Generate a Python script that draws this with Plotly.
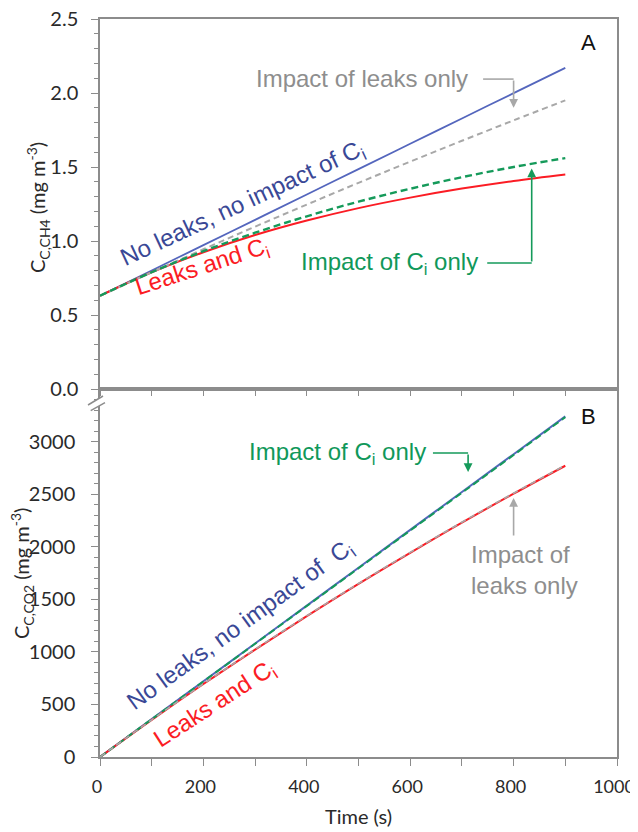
import plotly.graph_objects as go

# ---------------- data ----------------
time_s = [0, 100, 200, 300, 400, 500, 600, 700, 800, 900]

# Panel A: C_C,CH4 (mg m-3)
ch4_no_leaks_no_ci = [0.63, 0.801, 0.972, 1.143, 1.314, 1.486, 1.657, 1.828, 1.999, 2.17]
ch4_leaks_only = [0.63, 0.789, 0.944, 1.097, 1.246, 1.393, 1.536, 1.677, 1.815, 1.95]
ch4_ci_only = [0.63, 0.789, 0.931, 1.056, 1.167, 1.266, 1.353, 1.431, 1.500, 1.560]
ch4_leaks_and_ci = [0.63, 0.789, 0.924, 1.040, 1.138, 1.222, 1.293, 1.354, 1.406, 1.450]

# Panel B: C_C,CO2 (mg m-3)
co2_no_leaks_no_ci = [0, 360, 720, 1080, 1440, 1800, 2160, 2520, 2880, 3240]
co2_ci_only = [0, 359, 718, 1077, 1436, 1795, 2154, 2513, 2872, 3232]
co2_leaks_only = [0, 354, 695, 1024, 1343, 1650, 1946, 2233, 2509, 2775]
co2_leaks_and_ci = [0, 353, 694, 1022, 1340, 1647, 1942, 2229, 2504, 2770]

x_ticks = [0, 200, 400, 600, 800, 1000]
ch4_ticks = [0.0, 0.5, 1.0, 1.5, 2.0, 2.5]
co2_ticks = [0, 500, 1000, 1500, 2000, 2500, 3000]

# ---------------- styles ----------------
BLUE = "#5466bd"
BLUE_TXT = "#3a4896"
RED = "#fb1c24"
GREEN = "#159a5a"
GREEN_TXT = "#10985a"
GREY = "#a8a8a8"
GREY_TXT = "#8e8e8e"
AX = "#8c8c8c"
LFONT = "Lato, Open Sans, sans-serif"
YTICKFONT = dict(family=LFONT, size=20, color="#2a2a2a")
XTICKFONT = dict(family=LFONT, size=18, color="#2a2a2a")
ANNFONT = "Liberation Sans, Arial, sans-serif"

fig = go.Figure()

def line(x, y, xa, ya, color, width, dash="solid"):
    fig.add_trace(go.Scatter(x=x, y=y, xaxis=xa, yaxis=ya, mode="lines",
                             line=dict(color=color, width=width, dash=dash, shape="spline"),
                             hoverinfo="skip"))

# Panel A (top)
line(time_s, ch4_no_leaks_no_ci, "x2", "y2", BLUE, 1.8)
line(time_s, ch4_leaks_and_ci, "x2", "y2", RED, 2.0)
line(time_s, ch4_leaks_only, "x2", "y2", GREY, 2.0, "6px,4px")
line(time_s, ch4_ci_only, "x2", "y2", GREEN, 2.4, "7px,4px")

# Panel B (bottom)
line(time_s, co2_no_leaks_no_ci, "x", "y", BLUE, 2.0)
line(time_s, co2_leaks_and_ci, "x", "y", RED, 2.0)
line(time_s, co2_ci_only, "x", "y", GREEN, 2.0, "7px,4px")
line(time_s, co2_leaks_only, "x", "y", GREY, 1.6, "6px,4px")

split = (757 - 389) / 738.0

common_axis = dict(showline=True, linecolor=AX, linewidth=1.5, mirror=True,
                   showgrid=False, zeroline=False, tickcolor=AX, tickwidth=1.2,
                   automargin=False, ticklabeloverflow="allow")

# page body has an 8px margin: figure is sized so it fits the 638x832 window
fig.update_layout(
    width=630, height=824,
    margin=dict(l=92, r=21, t=11, b=75, autoexpand=False),
    paper_bgcolor="white", plot_bgcolor="white",
    showlegend=False,
    xaxis=dict(common_axis, domain=[0, 1], range=[0, 1000], anchor="y",
               tickfont=XTICKFONT,
               tickmode="array", tickvals=x_ticks, ticks="outside", ticklen=7,
               ticklabelstandoff=6, ticklabelshift=-3,
               minor=dict(tickmode="linear", tick0=0, dtick=100, ticks="outside",
                          ticklen=7, tickcolor=AX, tickwidth=1.2),
               title=dict(text="Time (s)", font=dict(family=LFONT, size=20, color="#2a2a2a"),
                          standoff=14)),
    yaxis=dict(common_axis, domain=[0, split], range=[0, 3500], anchor="x",
               tickfont=YTICKFONT,
               tickmode="array", tickvals=co2_ticks, ticks="outside", ticklen=7,
               ticklabelstandoff=12,
               minor=dict(tickmode="linear", tick0=0, dtick=100, ticks="outside",
                          ticklen=4, tickcolor=AX, tickwidth=1)),
    xaxis2=dict(common_axis, domain=[0, 1], range=[0, 1000], anchor="y2",
                showticklabels=False, tickmode="linear", tick0=0, dtick=100,
                ticks="outside", ticklen=5),
    yaxis2=dict(common_axis, domain=[split, 1], range=[0, 2.5], anchor="x2",
                tickfont=YTICKFONT,
                tickmode="array", tickvals=ch4_ticks, tickformat=".1f",
                ticks="outside", ticklen=7, ticklabelstandoff=9,
                minor=dict(tickmode="linear", tick0=0, dtick=0.1, ticks="outside",
                           ticklen=4, tickcolor=AX, tickwidth=1)),
)

anns = []
shapes = []

def px(xp):
    return (xp - 100) / 517.0

def py(yp):
    return (757 - yp) / 738.0

def text(x, y, xr, yr, s, color, size=24, angle=0, xanchor="center", align="center", family=ANNFONT):
    anns.append(dict(x=x, y=y, xref=xr, yref=yr, text=s, showarrow=False,
                     font=dict(family=family, size=size, color=color),
                     textangle=angle, xanchor=xanchor, yanchor="middle", align=align))

def arrow(x, y, ax, ay, xr, yr, color):
    anns.append(dict(x=x, y=y, ax=ax, ay=ay, xref=xr, yref=yr, axref=xr, ayref=yr,
                     text="", showarrow=True, arrowhead=2, arrowsize=1.1,
                     arrowwidth=1.6, arrowcolor=color))

def seg(x0, y0, x1, y1, xr, yr, color):
    shapes.append(dict(type="line", x0=x0, y0=y0, x1=x1, y1=y1, xref=xr, yref=yr,
                       line=dict(color=color, width=1.6)))

# ---- y-axis titles ----
text(px(38), py(208), "paper", "paper", "C<sub>C,CH4</sub> (mg m<sup>-3</sup>)", "#2a2a2a",
     size=20, angle=-90, family=LFONT)
text(px(22), py(574), "paper", "paper", "C<sub>C,CO2</sub> (mg m<sup>-3</sup>)", "#2a2a2a",
     size=20, angle=-90, family=LFONT)

# ---- Panel A annotations ----
text(944, 2.34, "x2", "y2", "A", "#111111", size=22)
text(716, 2.10, "x2", "y2", "Impact of leaks only", GREY_TXT, xanchor="right")
seg(741, 2.094, 800, 2.094, "x2", "y2", GREY)
arrow(800, 1.90, 800, 2.094, "x2", "y2", GREY)
text(275, 1.25, "x2", "y2", "No leaks, no impact of C<sub>i</sub>", BLUE_TXT, angle=-25)
text(199, 0.82, "x2", "y2", "Leaks and C<sub>i</sub>", RED, angle=-18)
text(735, 0.851, "x2", "y2", "Impact of C<sub>i</sub> only", GREEN_TXT, xanchor="right")
seg(749, 0.851, 835, 0.851, "x2", "y2", GREEN)
arrow(835, 1.49, 835, 0.851, "x2", "y2", GREEN)

# ---- Panel B annotations ----
text(944, 3234, "x", "y", "B", "#111111", size=22)
text(634, 2891, "x", "y", "Impact of C<sub>i</sub> only", GREEN_TXT, xanchor="right")
seg(644, 2891, 712, 2891, "x", "y", GREEN)
arrow(712, 2711, 712, 2891, "x", "y", GREEN)
text(714, 1779, "x", "y", "Impact of<br>leaks only", GREY_TXT, xanchor="left", align="left")
arrow(800, 2463, 800, 2092, "x", "y", GREY)
text(273, 1246, "x", "y", "No leaks, no impact of  C<sub>i</sub>", BLUE_TXT, angle=-36)
text(224, 495, "x", "y", "Leaks and C<sub>i</sub>", RED, angle=-33)

# ---- axis break marks ----
shapes.append(dict(type="path", xref="paper", yref="paper", layer="above",
                   path=f"M {px(88)},{py(405)} L {px(103)},{py(396)} L {px(105)},{py(402.7)} L {px(90.7)},{py(410.7)} Z",
                   fillcolor="white", line=dict(width=0)))
for (a, b, c, d) in [(88, 405, 103, 396), (90.7, 410.7, 105, 402.7)]:
    shapes.append(dict(type="line", xref="paper", yref="paper", layer="above",
                       x0=px(a), y0=py(b), x1=px(c), y1=py(d),
                       line=dict(color=AX, width=1.5)))

fig.update_layout(annotations=anns, shapes=shapes)
fig.write_html("out.html")
